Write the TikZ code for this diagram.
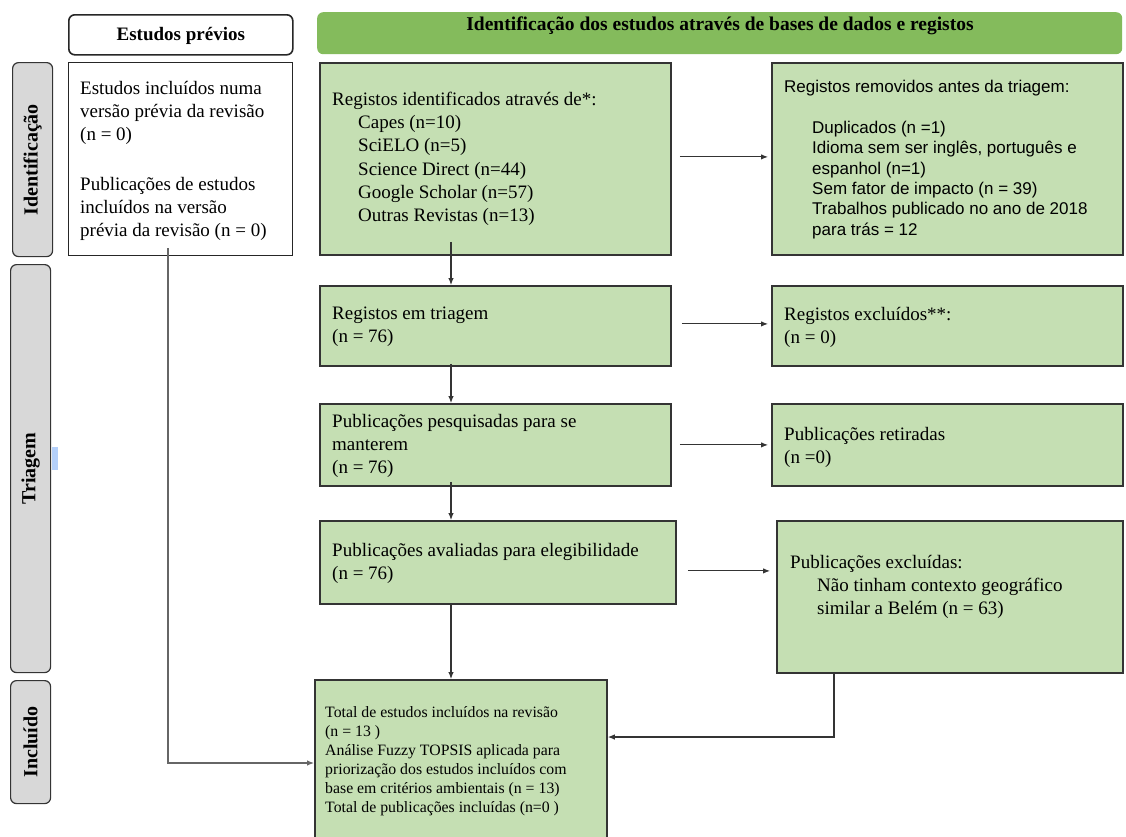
\documentclass[tikz,border=0pt]{standalone}
\usepackage{fontspec}
\setmainfont{Liberation Serif}
\setsansfont{Liberation Sans}
\usetikzlibrary{arrows.meta,calc}
\definecolor{boxgreen}{HTML}{C5DFB3}
\definecolor{hdrgreen}{HTML}{84BB5C}
\definecolor{sidegray}{HTML}{D8D8D8}
\definecolor{edge}{HTML}{343434}
\definecolor{selblue}{HTML}{B4D0FA}
\begin{document}
\begin{tikzpicture}[x=1pt,y=-1pt,
  gbox/.style={draw=edge,line width=1.8pt,fill=boxgreen,inner sep=0,anchor=north west},
  wbox/.style={draw=black!85,line width=1.3pt,fill=white,inner sep=0,anchor=north west},
  side/.style={draw=edge,line width=1.2pt,fill=sidegray,rounded corners=6pt,inner sep=0,anchor=north west},
  sidelabel/.style={rotate=90,font=\fontsize{20}{22}\selectfont\bfseries},
  txt/.style={anchor=north west,inner sep=0,align=left,font=\fontsize{19}{23.2}\selectfont},
  stxt/.style={anchor=north west,inner sep=0,align=left,font=\sffamily\fontsize{17}{20.4}\selectfont},
  arr/.style={draw=edge,line width=1.1pt,-{Latex[length=7pt,width=5.5pt]}},
]
\useasboundingbox (0,0) rectangle (1126,836);
\fill[white] (0,0) rectangle (1126,836);

% column headers
\node[wbox,rounded corners=6pt,line width=1.6pt,minimum width=224pt,minimum height=40pt] (prevhead) at (68,14) {};
\node[font=\fontsize{19}{21}\selectfont\bfseries] (prevheadtxt) at ($(prevhead.center)+(0,1)$) {Estudos prévios};
\node[fill=hdrgreen,rounded corners=6pt,inner sep=0,anchor=north west,minimum width=805pt,minimum height=42pt] (header) at (317,12) {};
\node[font=\fontsize{19.5}{21}\selectfont\bfseries] (headertxt) at (720,26) {Identificação dos estudos através de bases de dados e registos};

% phase labels
\node[side,minimum width=40pt,minimum height=194pt] (sideid) at (12,62) {};
\node[sidelabel] (sideidtxt) at (sideid.center) {Identificação};
\node[side,minimum width=40pt,minimum height=408pt] (sidetri) at (10,264) {};
\node[sidelabel] (sidetritxt) at (sidetri.center) {Triagem};
\node[side,minimum width=40pt,minimum height=123pt] (sideinc) at (10,680) {};
\node[sidelabel] (sideinctxt) at (sideinc.center) {Incluído};
\fill[selblue] (52,447) rectangle (58,470);

% previous studies
\node[wbox,minimum width=224pt,minimum height=193pt] (prev) at (68,62) {};
\node[txt] (prevtxt) at (80,81) {Estudos incluídos numa\\versão prévia da revisão\\(n = 0)\\[26pt]Publicações de estudos\\incluídos na versão\\prévia da revisão (n = 0)};

% identification
\node[gbox,minimum width=351pt,minimum height=192pt] (reg) at (319,62) {};
\node[txt] (regtxt) at (332,92) {Registos identificados através de*:\\
\hspace*{26pt}Capes (n=10)\\
\hspace*{26pt}SciELO (n=5)\\
\hspace*{26pt}Science Direct (n=44)\\
\hspace*{26pt}Google Scholar (n=57)\\
\hspace*{26pt}Outras Revistas (n=13)};
\node[gbox,minimum width=351pt,minimum height=192pt] (rem) at (771,62) {};
\node[stxt] (remtxt) at (784,80) {Registos removidos antes da triagem:\\[20.4pt]
\hspace*{28pt}Duplicados (n =1)\\
\hspace*{28pt}Idioma sem ser inglês, português e\\
\hspace*{28pt}espanhol (n=1)\\
\hspace*{28pt}Sem fator de impacto (n = 39)\\
\hspace*{28pt}Trabalhos publicado no ano de 2018\\
\hspace*{28pt}para trás = 12};

% screening
\node[gbox,minimum width=351pt,minimum height=80pt] (tri) at (319,285) {};
\node[txt] (tritxt) at (332,307) {Registos em triagem\\(n = 76)};
\node[gbox,minimum width=351pt,minimum height=80pt] (exc) at (771,285) {};
\node[txt] (exctxt) at (784,307) {Registos excluídos**:\\(n = 0)};
\node[gbox,minimum width=351pt,minimum height=82pt] (pesq) at (319,403) {};
\node[txt] (pesqtxt) at (332,414) {Publicações pesquisadas para se\\manterem\\(n = 76)};
\node[gbox,minimum width=351pt,minimum height=82pt] (ret) at (771,403) {};
\node[txt] (rettxt) at (784,427) {Publicações retiradas\\(n =0)};
\node[gbox,minimum width=356pt,minimum height=83pt] (aval) at (319,520) {};
\node[txt] (avaltxt) at (332,543) {Publicações avaliadas para elegibilidade\\(n = 76)};
\node[gbox,minimum width=346pt,minimum height=152pt] (pexc) at (776,520) {};
\node[txt] (pexctxt) at (790,555) {Publicações excluídas:\\
\hspace*{27pt}Não tinham contexto geográfico\\
\hspace*{27pt}similar a Belém (n = 63)};

% included
\node[gbox,minimum width=292pt,minimum height=162pt] (incl) at (314,679) {};
\node[txt,font=\fontsize{15.8}{19}\selectfont] (incltxt) at (325,706) {Total de estudos incluídos na revisão\\
(n = 13 )\\
Análise Fuzzy TOPSIS aplicada para\\
priorização dos estudos incluídos com\\
base em critérios ambientais (n = 13)\\
Total de publicações incluídas (n=0 )};

% connectors
\draw[arr] ($(reg.east)+(8,-2)$) -- ($(rem.west)+(-3,-2)$);
\draw[arr] ($(tri.east)+(10,-2)$) -- ($(exc.west)+(-3,-2)$);
\draw[arr] ($(pesq.east)+(8,0)$) -- ($(ret.west)+(-3,0)$);
\draw[arr] ($(aval.east)+(11,8.5)$) -- ($(pexc.west)+(-6,-26)$);
\draw[arr] ($(reg.south west)+(132,-14)$) -- ($(tri.north west)+(132,0)$);
\draw[arr] ($(tri.south west)+(132,-3)$) -- ($(pesq.north west)+(132,0)$);
\draw[arr] ($(pesq.south west)+(132,-5)$) -- ($(aval.north west)+(132,0)$);
\draw[arr] ($(aval.south west)+(132,0)$) -- ($(incl.north west)+(137,0)$);
\draw[arr] ($(pexc.south west)+(58,-2)$) |- ($(incl.north east)+(0,58)$);
\draw[arr,draw=black!60] ($(prev.south west)+(100,-8)$) |- ($(incl.north west)+(0,84)$);
\end{tikzpicture}
\end{document}
